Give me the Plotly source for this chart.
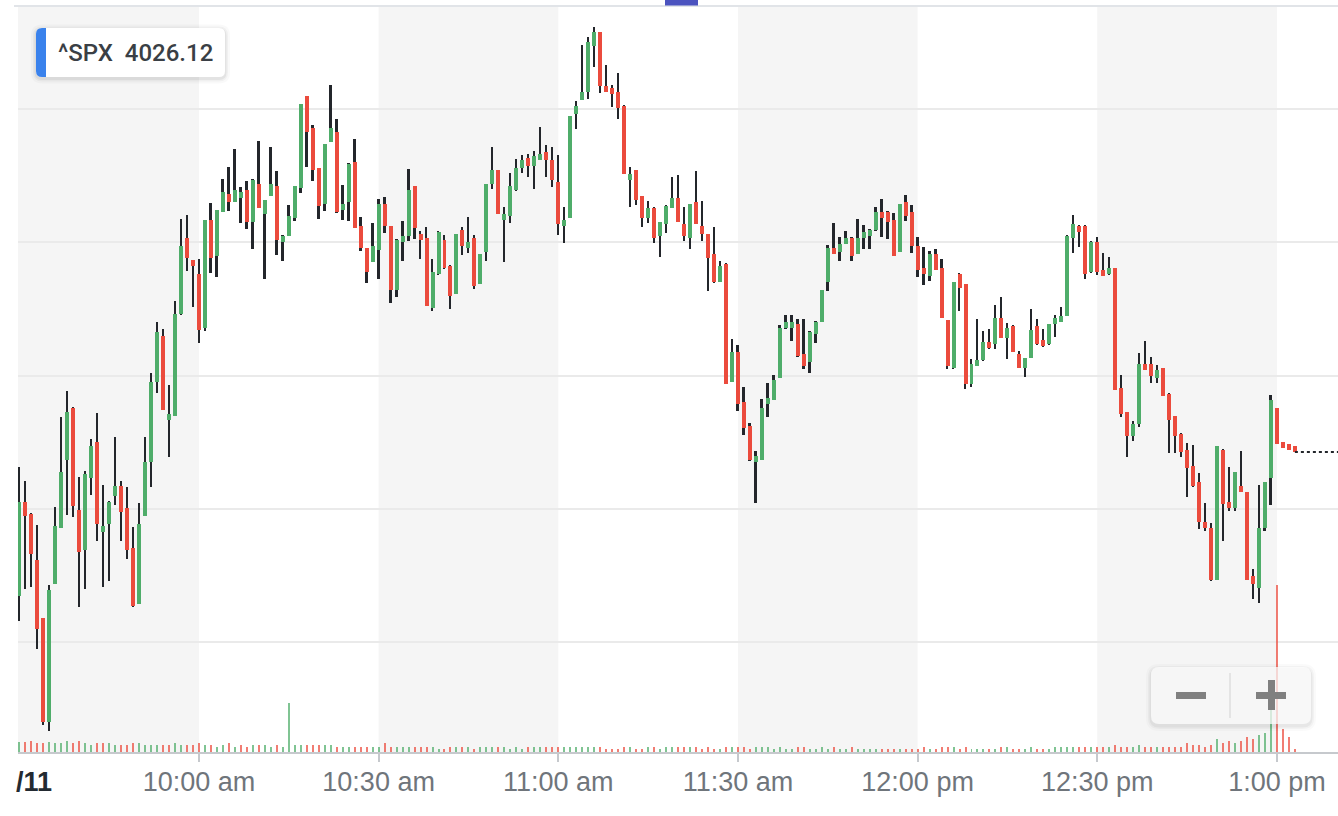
import plotly.graph_objects as go
import pandas as pd

# ---------------- data (1-minute candles, ^SPX) ----------------
session_start = "2022-11-11 09:30"

open_ = [4003.46,4010.51,4009.61,4006.16,4001.81,3994.01,4004.36,4008.56,4013.66,4017.56,
         4009.91,4006.91,4012.31,4015.01,4008.26,4008.86,4010.96,4011.71,4010.06,4007.06,
         4002.86,4009.46,4013.51,4019.51,4023.00,4016.66,4016.96,4024.61,4030.31,4028.66,
         4027.61,4023.56,4031.66,4028.96,4032.26,4033.61,4033.01,4033.31,4033.91,4031.51,
         4034.36,4032.11,4033.46,4034.21,4030.01,4030.46,4031.81,4034.06,4040.96,4038.56,
         4035.56,4032.86,4037.51,4038.26,4032.41,4033.01,4036.01,4031.21,4029.56,4028.51,
         4029.41,4032.86,4031.21,4026.41,4030.01,4030.46,4034.21,4030.61,4030.31,4025.06,
         4027.61,4030.16,4028.21,4026.11,4030.91,4029.56,4030.31,4026.86,4029.26,4034.36,
         4035.41,4031.66,4031.96,4033.91,4035.56,4036.31,4035.71,4036.16,4036.76,4036.16,
         4034.51,4031.21,4031.81,4039.61,4040.66,4041.26,4044.71,4045.76,4041.71,4041.56,
         4041.26,4040.21,4034.66,4035.41,4033.46,4031.81,4032.56,4030.46,4031.36,4032.56,
         4033.31,4031.36,4030.31,4033.01,4031.21,4030.61,4029.11,4027.01,4028.36,4019.51,
         4021.76,4018.01,4016.21,4013.51,4013.66,4017.86,4018.16,4019.81,4023.56,4023.56,
         4023.86,4021.61,4021.01,4023.11,4024.01,4027.01,4029.56,4029.26,4029.86,4030.31,
         4029.11,4030.31,4030.46,4030.91,4032.26,4032.26,4031.66,4029.26,4033.01,4032.26,
         4029.71,4028.06,4027.46,4029.11,4028.06,4024.16,4020.56,4027.61,4026.86,4019.36,
         4020.71,4021.16,4022.51,4022.36,4024.31,4022.81,4023.71,4021.61,4020.56,4021.31,
         4023.71,4022.66,4022.36,4023.86,4024.01,4024.46,4030.31,4031.21,4031.21,4027.76,
         4030.01,4027.91,4027.61,4028.06,4019.06,4017.26,4015.46,4016.36,4020.86,4020.86,
         4019.81,4020.56,4018.61,4016.96,4015.61,4014.41,4013.21,4012.01,4009.01,4008.56,
         4004.66,4014.41,4010.51,4010.06,4011.71,4011.26,4004.96,4004.06,4008.56,4012.31,
         4017.56,4015.01,4014.86,4014.71]

high = [4013.11,4012.09,4009.70,4008.79,4001.81,4004.29,4010.16,4016.91,4018.84,4017.64,
        4012.41,4012.86,4015.24,4017.19,4011.79,4010.59,4015.39,4012.09,4011.64,4008.64,
        4010.44,4015.39,4020.20,4024.00,4023.50,4019.29,4025.59,4031.74,4032.04,4028.66,
        4028.74,4031.66,4032.94,4032.41,4034.74,4035.64,4036.99,4034.14,4034.59,4034.74,
        4037.59,4033.16,4037.14,4035.34,4030.54,4032.79,4034.21,4040.36,4040.96,4038.79,
        4035.56,4037.36,4041.79,4039.24,4034.29,4035.94,4037.74,4031.89,4029.56,4031.44,
        4033.24,4033.39,4031.21,4030.24,4031.59,4035.49,4034.21,4030.84,4031.14,4028.74,
        4030.84,4030.54,4028.29,4030.61,4031.14,4031.89,4030.54,4029.11,4034.36,4037.14,
        4035.41,4032.64,4035.19,4036.24,4036.54,4036.61,4036.84,4038.64,4037.29,4037.14,
        4036.54,4032.64,4039.46,4040.59,4044.79,4045.39,4046.14,4045.76,4043.29,4041.79,
        4042.69,4040.29,4035.64,4035.41,4033.46,4033.09,4032.64,4031.51,4032.79,4034.89,
        4035.04,4032.64,4032.86,4035.34,4033.09,4030.61,4031.14,4028.59,4028.44,4022.74,
        4022.29,4019.14,4016.44,4014.34,4018.24,4019.44,4020.04,4023.79,4024.54,4024.54,
        4024.24,4024.24,4023.34,4024.09,4026.41,4029.79,4031.44,4030.39,4030.84,4030.39,
        4031.74,4031.29,4030.99,4032.64,4033.24,4032.34,4032.19,4032.86,4033.54,4032.79,
        4030.39,4029.64,4029.34,4029.49,4028.74,4024.16,4027.01,4027.69,4026.86,4021.24,
        4024.24,4023.34,4023.49,4025.29,4025.89,4023.94,4023.79,4021.84,4021.31,4024.99,
        4024.24,4023.49,4023.86,4024.54,4025.14,4030.54,4032.04,4031.29,4031.29,4030.09,
        4030.39,4029.19,4028.89,4028.06,4020.04,4017.26,4016.59,4021.69,4022.59,4021.39,
        4020.79,4020.56,4018.69,4016.96,4015.69,4014.94,4014.79,4012.69,4010.44,4008.94,
        4014.71,4014.49,4013.14,4012.76,4014.34,4011.26,4005.49,4011.79,4012.01,4018.54,
        4017.56,4015.01,4014.86,4014.71]

low = [4001.61,4004.01,4004.16,3999.51,3993.81,3993.36,4004.36,4008.56,4009.56,4009.41,
       4002.66,4003.99,4011.04,4007.59,4004.16,4004.59,4010.29,4007.59,4006.24,4002.64,
       4002.86,4009.46,4011.64,4018.69,4017.41,4013.89,4016.96,4024.54,4027.84,4025.14,
       4022.44,4023.34,4027.69,4027.39,4032.26,4032.34,4033.01,4031.44,4030.99,4029.49,
       4032.56,4027.24,4033.46,4029.04,4028.59,4030.46,4031.59,4033.69,4035.64,4034.59,
       4031.74,4032.34,4037.51,4032.19,4031.66,4031.59,4031.06,4029.34,4026.94,4028.51,
       4027.24,4030.69,4025.44,4025.89,4028.59,4030.09,4030.24,4028.74,4025.21,4024.84,
       4027.54,4027.99,4024.99,4026.11,4029.04,4029.19,4026.49,4026.86,4028.59,4033.99,
       4032.11,4028.51,4031.44,4033.84,4035.19,4034.89,4033.99,4036.16,4034.89,4034.14,
       4030.54,4029.94,4031.81,4038.49,4040.66,4040.74,4043.14,4041.19,4041.26,4040.14,
       4039.24,4035.11,4032.64,4032.79,4031.14,4031.44,4029.94,4028.89,4030.69,4032.56,
       4031.51,4030.09,4029.49,4031.36,4030.09,4026.34,4026.94,4027.01,4019.36,4019.51,
       4017.34,4015.54,4013.59,4010.44,4013.66,4016.89,4018.16,4019.81,4023.49,4022.59,
       4021.39,4020.49,4020.19,4022.44,4024.01,4026.34,4029.11,4028.59,4029.86,4028.59,
       4029.11,4029.49,4029.49,4030.84,4030.39,4030.24,4028.96,4029.26,4031.59,4029.19,
       4027.39,4026.79,4027.09,4027.91,4024.31,4020.49,4020.49,4024.84,4018.99,4019.14,
       4020.71,4021.09,4021.99,4021.99,4022.81,4021.24,4021.76,4020.56,4019.89,4021.31,
       4022.29,4022.14,4022.29,4022.89,4024.01,4024.46,4029.19,4029.64,4027.24,4027.69,
       4027.54,4027.46,4027.54,4018.91,4016.89,4013.89,4015.09,4016.14,4020.41,4019.44,
       4019.44,4018.46,4014.19,4014.19,4013.89,4010.89,4011.64,4008.49,4008.34,4004.59,
       4004.66,4007.59,4009.84,4009.84,4011.26,4004.66,4003.24,4002.94,4008.34,4010.29,
       4014.86,4014.56,4014.41,4014.26]

close = [4010.51,4009.46,4006.61,4000.96,3994.01,4003.91,4008.71,4012.76,4017.26,4010.21,
         4006.76,4012.61,4014.71,4008.86,4008.71,4010.51,4011.71,4009.76,4006.91,4002.71,
         4008.86,4013.51,4019.51,4023.26,4017.41,4017.11,4024.61,4029.71,4028.81,4028.21,
         4023.41,4031.66,4028.81,4032.41,4033.76,4033.01,4033.91,4033.76,4031.51,4034.66,
         4032.56,4033.16,4034.36,4030.16,4030.46,4031.96,4034.21,4040.36,4038.26,4035.41,
         4032.71,4037.36,4038.56,4032.26,4032.86,4035.86,4031.06,4029.56,4027.76,4029.71,
         4032.86,4031.21,4026.41,4030.16,4030.46,4033.91,4031.06,4030.16,4025.21,4027.76,
         4030.76,4028.06,4025.96,4030.61,4029.71,4030.01,4026.71,4029.11,4034.36,4035.41,
         4032.11,4032.11,4034.21,4035.56,4036.16,4035.71,4036.46,4036.61,4036.16,4034.66,
         4031.36,4031.66,4039.46,4040.21,4041.26,4045.01,4045.76,4041.71,4041.26,4041.11,
         4040.06,4035.11,4035.11,4033.16,4031.81,4032.56,4030.31,4031.51,4032.71,4033.31,
         4031.51,4030.46,4032.86,4031.36,4030.61,4028.81,4027.01,4028.21,4019.36,4021.76,
         4017.86,4016.06,4013.66,4013.96,4017.56,4018.31,4019.66,4023.56,4024.01,4024.01,
         4021.46,4020.71,4023.26,4024.01,4026.41,4029.56,4029.11,4029.86,4030.31,4028.96,
         4030.31,4030.76,4030.91,4032.26,4031.81,4031.51,4028.96,4032.86,4031.96,4029.71,
         4027.91,4027.61,4029.11,4027.91,4024.31,4020.71,4027.01,4026.56,4019.36,4020.86,
         4021.16,4022.51,4022.06,4024.31,4022.81,4023.56,4021.76,4020.56,4021.31,4023.41,
         4022.36,4022.21,4023.86,4024.31,4024.46,4030.46,4031.36,4030.76,4027.61,4030.01,
         4027.76,4027.46,4028.06,4018.91,4017.11,4015.46,4016.36,4020.86,4020.41,4019.96,
         4020.41,4018.46,4016.66,4015.46,4014.26,4013.06,4011.71,4009.01,4008.56,4004.66,
         4014.71,4010.36,4010.06,4012.76,4011.26,4004.66,4004.36,4008.56,4012.01,4018.16,
         4014.86,4014.56,4014.41,4014.26]

volume = [1000,1030,1100,900,900,1030,900,900,1100,900,
          1100,900,700,900,900,900,700,700,700,900,
          900,700,700,700,700,700,900,700,700,700,
          900,700,700,500,700,900,500,700,500,700,
          700,700,500,700,500,4900,700,700,700,700,
          700,700,700,500,500,500,500,500,500,500,
          500,900,500,500,500,500,500,500,500,500,
          300,300,500,500,500,500,300,500,500,500,
          500,500,300,500,300,500,500,500,500,500,
          500,500,500,500,500,500,500,500,300,300,
          300,500,500,300,300,500,500,300,500,500,
          500,500,500,500,300,500,300,300,500,500,
          500,500,300,500,500,500,300,500,300,300,
          500,500,300,300,500,300,500,300,300,500,
          300,300,300,300,300,300,300,300,300,300,
          300,500,300,300,500,500,500,300,500,300,
          300,300,300,300,500,500,300,300,300,500,
          300,300,300,500,500,500,500,500,500,500,
          500,500,500,700,500,500,500,700,500,500,
          500,500,500,500,500,900,700,700,500,700,
          1300,900,1100,900,1100,1500,1300,1700,1900,4200,
          16700,2300,1500,300]

tick_times = ["09:30", "10:00", "10:30", "11:00", "11:30", "12:00", "12:30", "13:00"]
tick_labels = ["/11", "10:00 am", "10:30 am", "11:00 am", "11:30 am", "12:00 pm", "12:30 pm", "1:00 pm"]
shaded_periods = [("09:29", "10:00"), ("10:30", "11:00"), ("11:30", "12:00"), ("12:30", "13:00")]
symbol = "^SPX"
quote = "4026.12"

# ---------------- styling ----------------
GREEN = "#4fad6a"
RED = "#eb4b3d"
VGREEN = "rgba(79,173,106,0.72)"
VRED = "rgba(235,75,61,0.72)"
WICK = "#23262b"
W, H = 1338, 816
ML, MR, MT, MB = 18, 0, 7, 64
PW, PH = W - ML - MR, H - MT - MB
FONT = "Liberation Sans, Arial, sans-serif"

day = session_start[:10]
times = pd.date_range(session_start, periods=len(open_), freq="1min")
x_range = [f"{day} 09:29:47", f"{day} 13:10:12"]
y_range = [3991.7625, 4047.6375]

def px(xp):
    return (xp - ML) / PW

def py(yp):
    return (H - MB - yp) / PH

def rr_path(x0, y0, x1, y1, r, left=True, right=True):
    rl = r if left else 0
    rr = r if right else 0
    pts = [f"M {px(x0 + rl)},{py(y0)}", f"L {px(x1 - rr)},{py(y0)}"]
    if rr:
        pts.append(f"Q {px(x1)},{py(y0)} {px(x1)},{py(y0 + rr)}")
    pts.append(f"L {px(x1)},{py(y1 - rr)}")
    if rr:
        pts.append(f"Q {px(x1)},{py(y1)} {px(x1 - rr)},{py(y1)}")
    pts.append(f"L {px(x0 + rl)},{py(y1)}")
    if rl:
        pts.append(f"Q {px(x0)},{py(y1)} {px(x0)},{py(y1 - rl)}")
    pts.append(f"L {px(x0)},{py(y0 + rl)}")
    if rl:
        pts.append(f"Q {px(x0)},{py(y0)} {px(x0 + rl)},{py(y0)}")
    pts.append("Z")
    return " ".join(pts)

# derived arrays
body_base = [min(o, c) for o, c in zip(open_, close)]
body_len = [abs(c - o) for o, c in zip(open_, close)]
body_col = [GREEN if c >= o else RED for o, c in zip(open_, close)]
wick_base = low
wick_len = [h - l for h, l in zip(high, low)]
vol_col = []
prev = open_[0]
for c in close:
    vol_col.append(VGREEN if c >= prev else VRED)
    prev = c

fig = go.Figure()

fig.add_trace(go.Bar(x=times, y=volume, width=20000, marker=dict(color=vol_col, line=dict(width=0)),
                     yaxis="y2", hoverinfo="skip", showlegend=False))
fig.add_trace(go.Bar(x=times, y=wick_len, base=wick_base, width=19000,
                     marker=dict(color=WICK, line=dict(width=0)), hoverinfo="skip", showlegend=False))
fig.add_trace(go.Bar(x=times, y=body_len, base=body_base, width=40000,
                     marker=dict(color=body_col, line=dict(width=0)), hoverinfo="skip", showlegend=False))
fig.add_trace(go.Scatter(x=[times[-1], x_range[1]], y=[close[-1], close[-1]], mode="lines",
                         line=dict(color=WICK, width=2, dash="dot"), hoverinfo="skip", showlegend=False))

shapes = []
for a, b in shaded_periods:
    x0 = x_range[0] if a == "09:29" else f"{day} {a}"
    shapes.append(dict(type="rect", xref="x", yref="paper", x0=x0, x1=f"{day} {b}", y0=0, y1=1,
                       fillcolor="#f5f5f5", line=dict(width=0), layer="below"))
# top border & small navigator handle
shapes.append(dict(type="line", xref="paper", yref="paper", x0=px(14), x1=1, y0=py(6), y1=py(6),
                   line=dict(color="#e1e4e8", width=2)))
shapes.append(dict(type="rect", xref="paper", yref="paper", x0=px(665), x1=px(698), y0=py(5.5), y1=py(0),
                   fillcolor="#4b53bf", line=dict(width=0)))
# legend box with shadow
for grow, alpha in [(5, 0.025), (3, 0.035), (1.5, 0.05)]:
    shapes.append(dict(type="path", xref="paper", yref="paper",
                       path=rr_path(36 - grow, 28 - grow + 1.5, 225 + grow, 77 + grow + 1.5, 6 + grow),
                       fillcolor=f"rgba(0,0,0,{alpha})", line=dict(width=0)))
shapes.append(dict(type="path", xref="paper", yref="paper", path=rr_path(36, 28, 225, 77, 6),
                   fillcolor="white", line=dict(width=0)))
shapes.append(dict(type="path", xref="paper", yref="paper", path=rr_path(36, 28, 46, 77, 6, right=False),
                   fillcolor="#3a82ec", line=dict(width=0)))
# zoom buttons
for grow, alpha in [(5, 0.02), (3, 0.03), (1.5, 0.045)]:
    shapes.append(dict(type="path", xref="paper", yref="paper",
                       path=rr_path(1151 - grow, 667 - grow + 2, 1311 + grow, 724 + grow + 2, 8 + grow),
                       fillcolor=f"rgba(0,0,0,{alpha})", line=dict(width=0)))
shapes.append(dict(type="path", xref="paper", yref="paper", path=rr_path(1151, 667, 1311, 724, 8),
                   fillcolor="rgba(255,255,255,0.72)", line=dict(width=0)))
shapes.append(dict(type="line", xref="paper", yref="paper", x0=px(1230), x1=px(1230), y0=py(673), y1=py(718),
                   line=dict(color="#dedede", width=1.5)))
shapes.append(dict(type="rect", xref="paper", yref="paper", x0=px(1176), x1=px(1206), y0=py(699), y1=py(692),
                   fillcolor="#808080", line=dict(width=0)))
shapes.append(dict(type="rect", xref="paper", yref="paper", x0=px(1256), x1=px(1286), y0=py(699), y1=py(692),
                   fillcolor="#808080", line=dict(width=0)))
shapes.append(dict(type="rect", xref="paper", yref="paper", x0=px(1268), x1=px(1275), y0=py(710), y1=py(680),
                   fillcolor="#808080", line=dict(width=0)))

# the (cut) date label at the session start is drawn as its own annotation
annotations = [
    dict(xref="paper", yref="paper", x=px(56), y=py(53), xanchor="left", yanchor="middle",
         text=f"{symbol}\u00a0\u00a0{quote}", showarrow=False,
         font=dict(size=24, color="#3a3f45", family="Roboto, " + FONT, weight=500)),
    dict(xref="paper", yref="paper", x=px(14), y=py(782), xanchor="left", yanchor="middle",
         text=f"<b>{tick_labels[0]}</b>", showarrow=False,
         font=dict(size=27, color="#232a31", family=FONT)),
]

fig.update_layout(
    width=W, height=H,
    margin=dict(l=ML, r=MR, t=MT, b=MB),
    paper_bgcolor="white", plot_bgcolor="white",
    barmode="overlay", bargap=0,
    showlegend=False,
    shapes=shapes,
    annotations=annotations,
    font=dict(family=FONT),
    xaxis=dict(type="date", range=x_range, tickvals=[f"{day} {t}" for t in tick_times[1:]],
               ticktext=tick_labels[1:],
               showgrid=False, zeroline=False, showline=True, linecolor="#c6c9cd", linewidth=2,
               ticks="outside", ticklen=8, tickwidth=1.5, tickcolor="#c6c9cd",
               tickfont=dict(size=27, color="#6f757b", family=FONT),
               ticklabelstandoff=-3, ticklabeloverflow="allow", automargin=False, fixedrange=True),
    yaxis=dict(range=y_range, tick0=4000, dtick=10, showticklabels=False, ticks="",
               showgrid=True, gridcolor="#eaeaea", gridwidth=2, zeroline=False, showline=False,
               automargin=False, fixedrange=True),
    yaxis2=dict(overlaying="y", range=[0, PH * 100], visible=False, showgrid=False, fixedrange=True),
)

fig.write_html("out.html", config={"displayModeBar": False},
               post_script="document.body.style.margin='0';document.body.style.overflow='hidden';")
